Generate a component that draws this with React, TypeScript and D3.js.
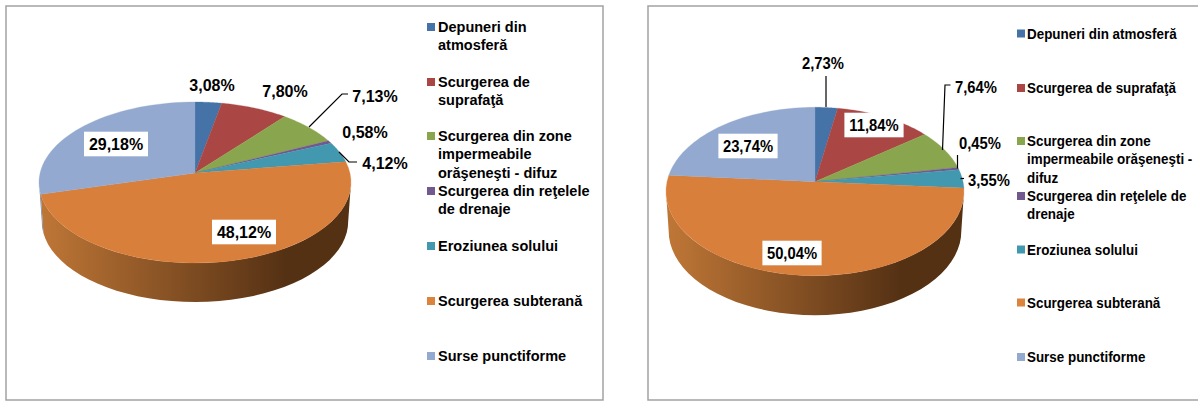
import React from "react";
import * as d3 from "d3";

const colors = ["#4572A7", "#AA4643", "#89A54E", "#71588F", "#4198AF", "#D87F3C", "#93A9CF"];
const legendColors = ["#4572A7", "#AA4643", "#89A54E", "#71588F", "#4198AF", "#DB843D", "#93A9CF"];
const valuesLeft = [3.08, 7.8, 7.13, 0.58, 4.12, 48.12, 29.18];
const valuesRight = [2.73, 11.84, 7.64, 0.45, 3.55, 50.04, 23.74];
const labelsLeft = ["3,08%", "7,80%", "7,13%", "0,58%", "4,12%", "48,12%", "29,18%"];
const labelsRight = ["2,73%", "11,84%", "7,64%", "0,45%", "3,55%", "50,04%", "23,74%"];
const legendLeft = [
  ["Depuneri din", "atmosferă"],
  ["Scurgerea de", "suprafaţă"],
  ["Scurgerea din zone", "impermeabile", "orăşeneşti - difuz"],
  ["Scurgerea din reţelele", "de drenaje"],
  ["Eroziunea solului"],
  ["Scurgerea subterană"],
  ["Surse punctiforme"],
];
const legendRight = [
  ["Depuneri din atmosferă"],
  ["Scurgerea de suprafaţă"],
  ["Scurgerea din zone", "impermeabile orăşeneşti -", "difuz"],
  ["Scurgerea din reţelele de", "drenaje"],
  ["Eroziunea solului"],
  ["Scurgerea subterană"],
  ["Surse punctiforme"],
];

type P = [number, number];
const layoutLeft = {
  id: "l", frame: [6, 6, 597, 394], cx: 195, cy: 173, rx: 156, top: 71, front: 90, depth: 39,
  gradX: [42, 285], labelSize: 16, textSx: 1,
  labelPos: [[212, 85], [285, 91], [375, 96], [365, 132], [385, 163], [244, 232], [116, 144]] as P[],
  boxed: [5, 6],
  leaders: [
    [[309, 127], [342, 94], [348, 94]],
    [[339, 152], [349, 162], [357, 162]],
  ] as P[][],
  swatchX: 427, textX: 438, legendY: [27, 82, 136, 191, 246, 301, 356], lineH: 18.3,
};
const layoutRight = {
  id: "r", frame: [648, 6, 560, 394], cx: 815, cy: 181.7, rx: 149, top: 74.4, front: 94, depth: 39.5,
  gradX: [670, 900], labelSize: 16, textSx: 0.925,
  labelPos: [[823, 63], [874, 125], [976, 87], [980, 143], [989, 180], [792, 253], [748, 146]] as P[],
  boxed: [1, 5, 6],
  leaders: [
    [[826, 76], [826, 107]],
    [[950.5, 85], [945, 85], [942.5, 150]],
    [[957.5, 155], [957.5, 168.5]],
    [[960.5, 178.5], [964, 178.5]],
  ] as P[][],
  swatchX: 1017, textX: 1027, legendY: [33.5, 88, 141, 196, 249.5, 302.5, 357], lineH: 18.3,
};

const FONT = "'Liberation Sans', Arial, sans-serif";
const line = d3.line<P>();

function Chart({ values, labels, legend, L }: { values: number[]; labels: string[]; legend: string[][]; L: typeof layoutLeft }) {
  const k = (L.front - L.top) / (L.front + L.top);
  const B = L.top * (1 + k);
  const A = L.rx * Math.sqrt(1 - k * k);
  const project = (a: number, bottom = false): P => {
    const u = Math.sin(a);
    const v = -Math.cos(a);
    const w = 1 - k * v;
    const sc = bottom ? 0.982 : 1;
    return [L.cx + (sc * A * u) / w, L.cy + (bottom ? L.depth : 0) + (B * v) / w];
  };
  const arcs = d3.pie<number>().sort(null).startAngle(0).endAngle(2 * Math.PI)(values);
  const samples = (a0: number, a1: number) =>
    d3.range(0, 41).map((i) => a0 + ((a1 - a0) * i) / 40);
  const visA = Math.acos(-k);
  const visB = 2 * Math.PI - visA;
  const gradId = "side-" + L.id;
  const [fx, fy, fw, fh] = L.frame;

  return (
    <g>
      <rect x={fx} y={fy} width={fw} height={fh} fill="#fff" stroke="#a2a2a2" strokeWidth={1.5} />
      <defs>
        <linearGradient id={gradId} gradientUnits="userSpaceOnUse" x1={L.gradX[0]} x2={L.gradX[1]} y1={0} y2={0}>
          <stop offset="0" stopColor="#BE7636" />
          <stop offset="1" stopColor="#553114" />
        </linearGradient>
      </defs>
      {arcs.map((d, i) => {
        const a0 = Math.max(d.startAngle, visA);
        const a1 = Math.min(d.endAngle, visB);
        if (a1 <= a0) return null;
        const s = samples(a0, a1);
        const pts = [...s.map((a) => project(a)), ...s.slice().reverse().map((a) => project(a, true))];
        const isMain = colors[i] === "#D87F3C";
        return (
          <path
            key={"s" + i}
            d={line(pts) + "Z"}
            fill={isMain ? `url(#${gradId})` : d3.color(colors[i])!.darker(0.6).toString()}
          />
        );
      })}
      {arcs.map((d, i) => {
        const pts: P[] = [[L.cx, L.cy], ...samples(d.startAngle, d.endAngle).map((a) => project(a))];
        return <path key={"t" + i} d={line(pts) + "Z"} fill={colors[i]} stroke={colors[i]} strokeWidth={0.3} />;
      })}
      {L.leaders.map((pts, i) => (
        <path key={"l" + i} d={line(pts)!} fill="none" stroke="#000" strokeWidth={1.2} />
      ))}
      {labels.map((t, i) => {
        const [x, y] = L.labelPos[i];
        const w = (t.length === 6 ? 64 : 54) * L.textSx;
        return (
          <g key={"d" + i}>
            {L.boxed.includes(i) && <rect x={x - w / 2} y={y - 12.3} width={w} height={24.6} fill="#fff" />}
            <text
              transform={`translate(${x},${y + 5.6}) scale(${L.textSx},1)`}
              textAnchor="middle"
              fontFamily={FONT}
              fontWeight="bold"
              fontSize={L.labelSize}
              fill="#000"
            >
              {t}
            </text>
          </g>
        );
      })}
      {legend.map((lines, i) => (
        <g key={"g" + i}>
          <rect x={L.swatchX} y={L.legendY[i] - 4} width={8} height={8} fill={legendColors[i]} />
          {lines.map((t, j) => (
            <text
              key={j}
              transform={`translate(${L.textX},${L.legendY[i] + 5 + j * L.lineH}) scale(${L.textSx},1)`}
              fontFamily={FONT}
              fontWeight="bold"
              fontSize={14.5}
              fill="#000"
            >
              {t}
            </text>
          ))}
        </g>
      ))}
    </g>
  );
}

export default function App() {
  return (
    <svg
      width={1198}
      height={401}
      viewBox="0 0 1198 401"
      style={{ position: "absolute", left: 0, top: 0, background: "#fff" }}
    >
      <Chart values={valuesLeft} labels={labelsLeft} legend={legendLeft} L={layoutLeft} />
      <Chart values={valuesRight} labels={labelsRight} legend={legendRight} L={layoutRight as typeof layoutLeft} />
    </svg>
  );
}
